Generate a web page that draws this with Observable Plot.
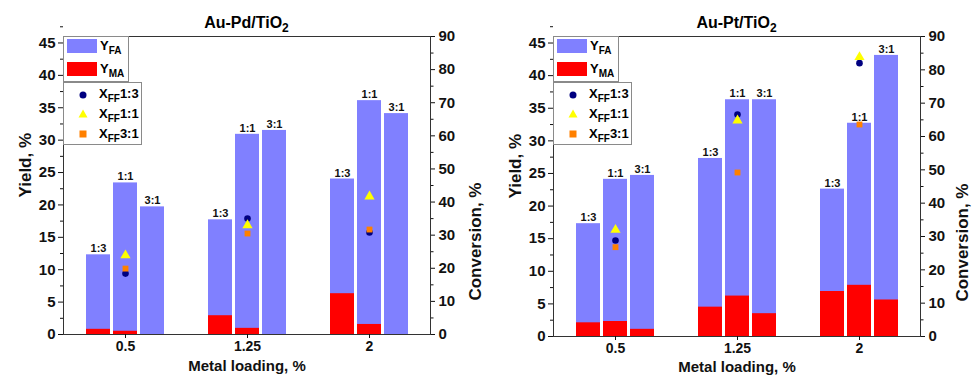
<!DOCTYPE html>
<html>
<head>
<meta charset="utf-8">
<script src="https://cdn.jsdelivr.net/npm/d3@7"></script>
<script src="https://cdn.jsdelivr.net/npm/@observablehq/plot@0.6"></script>
<style>
  html, body { margin: 0; padding: 0; background: #fff; }
  body { font-family: "Liberation Sans", Arial, sans-serif; font-weight: bold; }
  #root { position: relative; width: 973px; height: 376px; overflow: hidden; }
  .panel { position: absolute; top: 0; height: 376px; }
  .panel svg { position: absolute; left: 0; top: 0; }
  .title { position: absolute; top: 14px; font-size: 16px; text-align: center; white-space: nowrap; transform: translateX(-50%); }
  .title sub { font-size: 12px; vertical-align: -4px; line-height: 0; }
  .box { position: absolute; border: 1px solid #8a8a8a; background: #fff; box-sizing: border-box; }
  .sw { position: absolute; width: 30px; height: 14px; }
  .lt { position: absolute; font-size: 13px; white-space: nowrap; line-height: 14px; }
  .lt sub { font-size: 10px; vertical-align: -4px; line-height: 0; }
  .mk { position: absolute; }
</style>
</head>
<body>
<div id="root"></div>
<script>
// ---- data ----
const loadings = ["0.5", "1.25", "2"];
const ratios = ["1:3", "1:1", "3:1"];

// Au-Pd/TiO2 : yields (%), ordered loading-major, ratio-minor (1:3, 1:1, 3:1)
const pdYFA = [12.3, 23.4, 19.7, 17.7, 30.9, 31.5, 24.0, 36.1, 34.1];
const pdYMA = [0.8, 0.5, 0, 2.9, 0.95, 0, 6.3, 1.55, 0];
// conversion (%), per loading
const pdX13 = [18.4, 35.0, 30.8];
const pdX11 = [23.9, 33.0, 41.7];
const pdX31 = [19.9, 30.5, 31.7];

// Au-Pt/TiO2
const ptYFA = [17.3, 24.1, 24.7, 27.3, 36.3, 36.3, 22.6, 32.7, 43.1];
const ptYMA = [2.1, 2.3, 1.1, 4.5, 6.2, 3.5, 6.9, 7.85, 5.6];
const ptX13 = [28.8, 66.6, 82.0];
const ptX11 = [32.0, 64.8, 83.8];
const ptX31 = [26.8, 49.2, 63.6];

const yieldTicks = [0, 5, 10, 15, 20, 25, 30, 35, 40, 45];
const convTicks = [0, 10, 20, 30, 40, 50, 60, 70, 80, 90];

const yMax = 46, convMax = 90;
const k = yMax / convMax;
const blue = "#8080ff", red = "#ff0000";
const cNavy = "#000080", cYellow = "#ffff00", cOrange = "#ff8000";
const barOffsets = {"1:3": -27, "1:1": 0, "3:1": 27};

function makePanel(opts) {
  const {title, fa, ma, x13, x11, x31, left, width, mr, mb, convDx, xlabDy} = opts;
  const rows = loadings.flatMap((l, i) => ratios.map((r, j) => ({loading: l, ratio: r, fa: fa[i * 3 + j], ma: ma[i * 3 + j]})));
  const conv = (arr) => loadings.map((l, i) => ({loading: l, c: arr[i]}));
  const marks = [];
  for (const r of ratios) {
    const sub = rows.filter(d => d.ratio === r);
    const o = {x: "loading", dx: barOffsets[r], insetLeft: 49, insetRight: 49};
    marks.push(Plot.barY(sub, {...o, y: "fa", fill: blue}));
    marks.push(Plot.barY(sub.filter(d => d.ma > 0), {...o, y: "ma", fill: red}));
    marks.push(Plot.text(sub, {x: "loading", y: "fa", dx: barOffsets[r], dy: -6, text: "ratio", fontSize: 11, fontWeight: "bold", fill: "#111"}));
  }
  marks.push(Plot.dot(conv(x13), {x: "loading", y: d => d.c * k, symbol: "circle", r: 3.3, fill: cNavy}));
  marks.push(Plot.dot(conv(x11), {x: "loading", y: d => d.c * k, symbol: "triangle", r: 3.8, fill: cYellow}));
  marks.push(Plot.dot(conv(x31), {x: "loading", y: d => d.c * k, symbol: "square", r: 3.3, fill: cOrange}));
  marks.push(Plot.frame({stroke: "#333"}));
  marks.push(Plot.axisY({ticks: yieldTicks, tickSize: 5, tickPadding: 3, fontSize: 15, label: null}));
  marks.push(Plot.axisY({ticks: yieldTicks.map(v => v + 2.5), tickSize: 3, tickFormat: () => "", label: null}));
  marks.push(Plot.axisY({anchor: "right", ticks: convTicks.map(v => v * k), tickFormat: v => String(Math.round(v / k)), tickSize: 4, tickPadding: 4, fontSize: 15, label: null}));
  marks.push(Plot.axisY({anchor: "right", ticks: convTicks.slice(0, -1).map(v => (v + 5) * k), tickSize: 2.5, tickFormat: () => "", label: null}));
  marks.push(Plot.axisX({tickSize: 4, tickPadding: 3, fontSize: 14, label: null}));
  marks.push(Plot.text(["Yield, %"], {frameAnchor: "left", lineAnchor: "middle", dx: -38, dy: 12, rotate: -90, fontSize: 17, fontWeight: "bold", fill: "#111"}));
  marks.push(Plot.text(["Conversion, %"], {frameAnchor: "right", lineAnchor: "middle", dx: convDx, dy: -3, rotate: -90, fontSize: 17, fontWeight: "bold", fill: "#111"}));
  marks.push(Plot.text(["Metal loading, %"], {frameAnchor: "bottom", lineAnchor: "middle", dy: xlabDy, fontSize: 15, fontWeight: "bold", fill: "#111"}));

  const chart = Plot.plot({
    width, height: 376,
    marginLeft: 63, marginRight: mr, marginTop: 36, marginBottom: mb,
    style: {fontFamily: "Liberation Sans, Arial, sans-serif", fontWeight: "bold", background: "transparent", color: "#111"},
    x: {type: "band", domain: loadings, padding: 0, axis: null},
    y: {domain: [0, yMax], axis: null},
    marks
  });

  const panel = document.createElement("div");
  panel.className = "panel";
  panel.style.left = left + "px";
  panel.style.width = width + "px";
  panel.appendChild(chart);

  const frameCx = 63 + (width - 63 - mr) / 2;
  const t = document.createElement("div");
  t.className = "title";
  t.style.left = frameCx + "px";
  t.innerHTML = title;
  panel.appendChild(t);

  // legend boxes
  const b1 = document.createElement("div");
  b1.className = "box";
  Object.assign(b1.style, {left: "63px", top: "36px", width: "66px", height: "46px"});
  b1.innerHTML =
    `<div class="sw" style="left:3px;top:2px;background:${blue}"></div>` +
    `<div class="lt" style="left:36px;top:2px">Y<sub>FA</sub></div>` +
    `<div class="sw" style="left:3px;top:25px;background:${red}"></div>` +
    `<div class="lt" style="left:36px;top:25px">Y<sub>MA</sub></div>`;
  panel.appendChild(b1);

  const b2 = document.createElement("div");
  b2.className = "box";
  Object.assign(b2.style, {left: "63px", top: "82px", width: "79px", height: "63px"});
  b2.innerHTML =
    `<svg class="mk" style="left:13px;top:6px" width="12" height="12"><circle cx="6" cy="6" r="3.5" fill="${cNavy}"/></svg>` +
    `<div class="lt" style="left:35px;top:4px">X<sub>FF</sub>1:3</div>` +
    `<svg class="mk" style="left:13px;top:25px" width="12" height="12"><polygon points="6,1.5 10.5,9.5 1.5,9.5" fill="${cYellow}"/></svg>` +
    `<div class="lt" style="left:35px;top:24px">X<sub>FF</sub>1:1</div>` +
    `<svg class="mk" style="left:13px;top:45px" width="12" height="12"><rect x="2.5" y="2.5" width="7" height="7" fill="${cOrange}"/></svg>` +
    `<div class="lt" style="left:35px;top:44px">X<sub>FF</sub>3:1</div>`;
  panel.appendChild(b2);

  document.getElementById("root").appendChild(panel);
}

makePanel({title: "Au-Pd/TiO<sub>2</sub>", fa: pdYFA, ma: pdYMA, x13: pdX13, x11: pdX11, x31: pdX31, left: 0, width: 490, mr: 60, mb: 42, convDx: 45, xlabDy: 32});
makePanel({title: "Au-Pt/TiO<sub>2</sub>", fa: ptYFA, ma: ptYMA, x13: ptX13, x11: ptX11, x31: ptX31, left: 490, width: 483, mr: 53, mb: 40, convDx: 42, xlabDy: 31});
</script>
</body>
</html>
